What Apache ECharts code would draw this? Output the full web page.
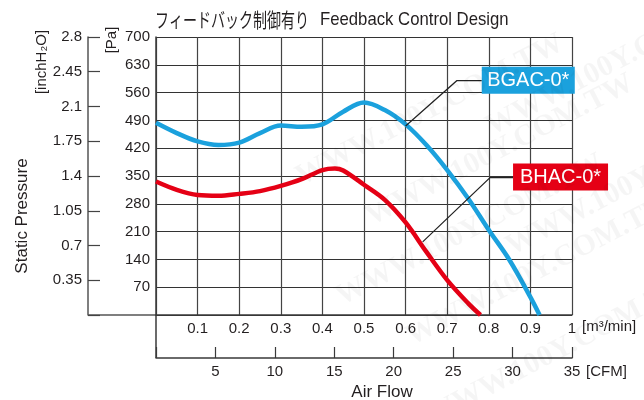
<!DOCTYPE html>
<html>
<head>
<meta charset="utf-8">
<script src="https://cdn.jsdelivr.net/npm/echarts@6/dist/echarts.min.js"></script>
<style>
html,body{margin:0;padding:0;background:#fff;}
#c{width:644px;height:400px;}
</style>
</head>
<body>
<div id="c"></div>
<script>
// ---- data ----
const flowM3 = [0, 0.05, 0.1, 0.15, 0.2, 0.25, 0.3, 0.35, 0.4, 0.45, 0.5, 0.55, 0.6, 0.65, 0.7, 0.75, 0.8, 0.85, 0.9, 0.922];
const bgacPa = [484, 458, 437, 428, 434, 458, 477, 474, 480, 512, 535, 516, 480, 428, 365, 294, 214, 138, 45, 0];
const flowM3Red = [0, 0.05, 0.1, 0.15, 0.2, 0.25, 0.3, 0.35, 0.4, 0.43, 0.45, 0.5, 0.55, 0.6, 0.65, 0.7, 0.75, 0.78];
const bhacPa = [336, 315, 302, 300, 305, 312, 325, 342, 365, 369, 364, 328, 290, 233, 159, 88, 30, 0];
const seriesNames = ['BGAC-0*', 'BHAC-0*'];
const titleJa = 'フィードバック制御有り';
const titleEn = 'Feedback Control Design';
const paTicks = {min: 0, max: 700, interval: 70};
const inchTicks = {min: 0, max: 2.8, interval: 0.35};
const m3Ticks = {min: 0, max: 1, interval: 0.1};
const cfmTicks = {min: 0, max: 35, interval: 5};

const BLUE = '#1ba1dd';
const RED = '#e50015';
const TXT = '#231f20';

const chart = echarts.init(document.getElementById('c'), null, {renderer: 'canvas'});
const fmt = (v) => v === 0 ? '' : String(+v.toFixed(2));

chart.setOption({
  animation: false,
  grid: {left: 156, top: 37, width: 416, height: 278, containLabel: false},
  xAxis: [
    {type: 'value', min: m3Ticks.min, max: m3Ticks.max, interval: m3Ticks.interval, position: 'bottom',
     axisLine: {show: true, onZero: false, lineStyle: {color: '#3a3a3a', width: 1.5}}, axisTick: {show: false},
     axisLabel: {formatter: fmt, color: TXT, fontSize: 15, fontFamily: 'Liberation Sans', margin: 6},
     splitLine: {show: true, lineStyle: {color: '#444', width: 1.2}}},
    {type: 'value', min: cfmTicks.min, max: cfmTicks.max, interval: cfmTicks.interval, position: 'bottom', offset: 43,
     axisLine: {show: true, onZero: false, lineStyle: {color: '#3a3a3a', width: 1.5}},
     axisTick: {show: true, inside: true, length: 11, lineStyle: {color: '#3a3a3a', width: 1.2}},
     axisLabel: {formatter: fmt, color: TXT, fontSize: 15, fontFamily: 'Liberation Sans', margin: 6},
     splitLine: {show: false}}
  ],
  yAxis: [
    {type: 'value', min: paTicks.min, max: paTicks.max, interval: paTicks.interval, position: 'left',
     axisLine: {show: true, onZero: false, lineStyle: {color: '#3a3a3a', width: 1.5}}, axisTick: {show: false},
     axisLabel: {formatter: fmt, color: TXT, fontSize: 15, fontFamily: 'Liberation Sans', margin: 6},
     splitLine: {show: true, lineStyle: {color: '#333', width: 1.2}}},
    {type: 'value', min: inchTicks.min, max: inchTicks.max, interval: inchTicks.interval, position: 'left', offset: 68,
     axisLine: {show: true, onZero: false, lineStyle: {color: '#555', width: 1.5}},
     axisTick: {show: true, inside: true, length: 12, lineStyle: {color: '#444', width: 1.2}},
     axisLabel: {formatter: fmt, color: TXT, fontSize: 15, fontFamily: 'Liberation Sans', margin: 6},
     splitLine: {show: false}}
  ],
  series: [
    {name: seriesNames[0], type: 'line', xAxisIndex: 0, yAxisIndex: 0, smooth: 0.35, symbol: 'none',
     lineStyle: {color: BLUE, width: 4.5}, data: flowM3.map((x, i) => [x, bgacPa[i]]), z: 5},
    {name: seriesNames[1], type: 'line', xAxisIndex: 0, yAxisIndex: 0, smooth: 0.35, symbol: 'none',
     lineStyle: {color: RED, width: 4.5}, data: flowM3Red.map((x, i) => [x, bhacPa[i]]), z: 5}
  ]
});

const P = (x, y) => chart.convertToPixel({xAxisIndex: 0, yAxisIndex: 0}, [x, y]);
const o = P(0, 0), tr = P(1, 700);
const g = [];
// connector lines of the secondary axes
g.push({type: 'line', shape: {x1: o[0] - 68, y1: o[1], x2: o[0], y2: o[1]}, style: {stroke: '#555', lineWidth: 1.5}});
g.push({type: 'line', shape: {x1: o[0], y1: o[1], x2: o[0], y2: o[1] + 43}, style: {stroke: '#3a3a3a', lineWidth: 1.5}});
// title
g.push({type: 'text', x: o[0] - 1, y: 20, scaleX: 0.7, style: {text: titleJa, font: '20px "Noto Sans CJK JP"', fill: TXT, textAlign: 'left', textVerticalAlign: 'middle'}});
g.push({type: 'text', x: 320, y: 20, scaleX: 0.88, style: {text: titleEn, font: '19px "Liberation Sans"', fill: TXT, textAlign: 'left', textVerticalAlign: 'middle'}});
// unit labels
g.push({type: 'text', x: 42, y: 62, rotation: Math.PI / 2, style: {text: '[inchH₂O]', font: '15px "Liberation Sans"', fill: TXT, textAlign: 'center', textVerticalAlign: 'middle'}});
g.push({type: 'text', x: 112, y: 40, rotation: Math.PI / 2, style: {text: '[Pa]', font: '15px "Liberation Sans"', fill: TXT, textAlign: 'center', textVerticalAlign: 'middle'}});
g.push({type: 'text', x: 22, y: 216, rotation: Math.PI / 2, style: {text: 'Static Pressure', font: '17px "Liberation Sans"', fill: TXT, textAlign: 'center', textVerticalAlign: 'middle'}});
g.push({type: 'text', x: tr[0] + 10, y: o[1] + 12, style: {text: '[m³/min]', font: '15px "Liberation Sans"', fill: TXT, textAlign: 'left', textVerticalAlign: 'middle'}});
g.push({type: 'text', x: tr[0] + 14, y: o[1] + 57, style: {text: '[CFM]', font: '15px "Liberation Sans"', fill: TXT, textAlign: 'left', textVerticalAlign: 'middle'}});
g.push({type: 'text', x: 382, y: 392, style: {text: 'Air Flow', font: '17px "Liberation Sans"', fill: TXT, textAlign: 'center', textVerticalAlign: 'middle'}});
// callouts
function callout(curveX, curveY, elbowX, elbowY, gap, w, color, label) {
  const a = P(curveX, curveY), e = P(elbowX, elbowY);
  g.push({type: 'polyline', shape: {points: [a, e, [e[0] + gap, e[1]]]}, style: {stroke: '#222', lineWidth: 1.2, fill: null}, z: 20});
  g.push({type: 'rect', shape: {x: e[0] + gap, y: e[1] - 14, width: w, height: 27}, style: {fill: color}, z: 20});
  g.push({type: 'text', x: e[0] + gap + w / 2, y: e[1], style: {text: label, font: '20px "Liberation Sans"', fill: '#fff', textAlign: 'center', textVerticalAlign: 'middle'}, z: 21});
}
callout(0.6, 476, 0.723, 590, 25, 93, BLUE, seriesNames[0]);
callout(0.641, 184, 0.803, 346, 23, 95, RED, seriesNames[1]);
// faint watermark
const wm = [[430, 110], [500, 150], [470, 230], [540, 270], [560, 350], [620, 60], [640, 180]];
wm.forEach(p => g.push({type: 'text', x: p[0], y: p[1], rotation: 0.48, style: {text: 'WWW.100Y.COM.TW', font: 'bold 30px "Liberation Serif"', fill: 'rgba(0,0,0,0.04)', textAlign: 'center', textVerticalAlign: 'middle'}, z: 30}));
chart.setOption({graphic: g});
</script>
</body>
</html>
